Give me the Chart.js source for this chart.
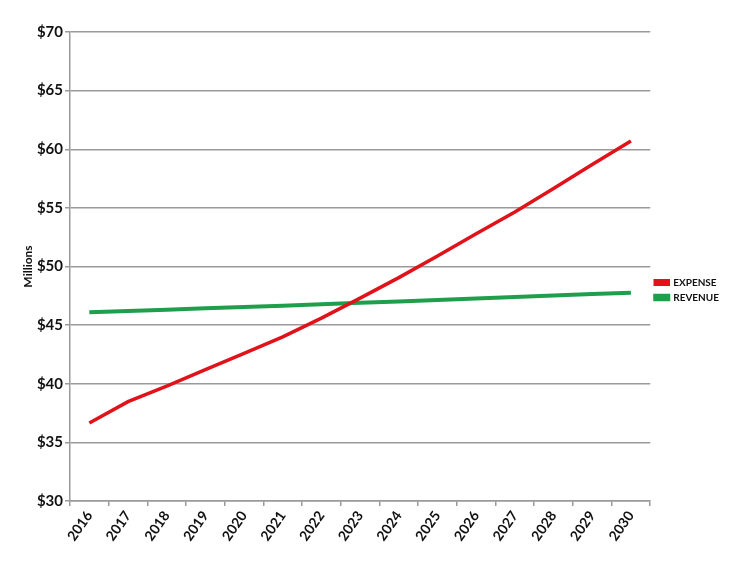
<!DOCTYPE html>
<html>
<head>
<meta charset="utf-8">
<script src="https://cdn.jsdelivr.net/npm/chart.js@4.4.0/dist/chart.umd.min.js"></script>
<style>
  html, body { margin: 0; padding: 0; background: #fff; }
  #wrap { width: 739px; height: 566px; }
</style>
</head>
<body>
<div id="wrap"><canvas id="expenseRevenueChart" width="739" height="566"></canvas></div>
<script>
const years = ['2016', '2017', '2018', '2019', '2020', '2021', '2022', '2023',
    '2024', '2025', '2026', '2027', '2028', '2029', '2030'];
const expense = [36.65, 38.47, 39.8, 41.2, 42.6, 44.0, 45.6, 47.3,
    49.05, 50.9, 52.8, 54.65, 56.65, 58.7, 60.7];
const revenue = [46.1, 46.2, 46.32, 46.43, 46.55, 46.66, 46.78, 46.9,
    47.02, 47.14, 47.27, 47.4, 47.53, 47.65, 47.77];
const yTicks = [30, 35, 40, 45, 50, 55, 60, 65, 70];

const fontFamily = 'Lato, "Open Sans", sans-serif';
const gridGray = '#9a9a9a';

function generateChart() {
    const context = document.getElementById('expenseRevenueChart').getContext('2d');
    new Chart(context, {
        type: 'line',
        data: {
            labels: years,
            datasets: [{
                label: 'EXPENSE',
                data: expense,
                borderColor: '#e0121a',
                backgroundColor: '#e0121a',
                borderWidth: 3.5,
                pointRadius: 0,
                tension: 0,
                fill: false
            }, {
                label: 'REVENUE',
                data: revenue,
                borderColor: '#1f9e4c',
                backgroundColor: '#1f9e4c',
                borderWidth: 4,
                pointRadius: 0,
                tension: 0,
                fill: false
            }]
        },
        options: {
            responsive: false,
            animation: false,
            layout: { padding: { top: 32, right: 10, left: 21, bottom: 18 } },
            plugins: {
                tooltip: { enabled: false },
                legend: {
                    position: 'right',
                    labels: {
                        boxWidth: 13,
                        boxHeight: 3.5,
                        padding: 5,
                        color: '#111',
                        font: { family: fontFamily, size: 10, weight: 'bold' }
                    }
                }
            },
            scales: {
                x: {
                    offset: true,
                    grid: {
                        display: true,
                        drawOnChartArea: false,
                        offset: true,
                        color: gridGray,
                        lineWidth: 1.5,
                        tickLength: 5
                    },
                    border: { color: gridGray, width: 1.5 },
                    ticks: {
                        autoSkip: false,
                        minRotation: 55,
                        maxRotation: 55,
                        padding: 2,
                        color: '#111',
                        font: { family: fontFamily, size: 14, weight: 'bold' }
                    },
                    afterFit: function (scale) { scale.height = 47; }
                },
                y: {
                    min: 30,
                    max: 70,
                    afterBuildTicks: function (scale) {
                        scale.ticks = yTicks.map(v => ({ value: v }));
                    },
                    grid: {
                        color: gridGray,
                        lineWidth: 1.5,
                        tickLength: 5
                    },
                    border: { color: gridGray, width: 1.5 },
                    ticks: {
                        padding: 2,
                        color: '#111',
                        font: { family: fontFamily, size: 15, weight: 'bold' },
                        callback: function (value) { return '$' + value; }
                    },
                    title: {
                        display: true,
                        text: 'Millions',
                        color: '#111',
                        padding: { top: 0, bottom: 4 },
                        font: { family: fontFamily, size: 12, weight: 'bold' }
                    },
                    afterFit: function (scale) { scale.width = 49; }
                }
            }
        }
    });
}

generateChart();
</script>
</body>
</html>
